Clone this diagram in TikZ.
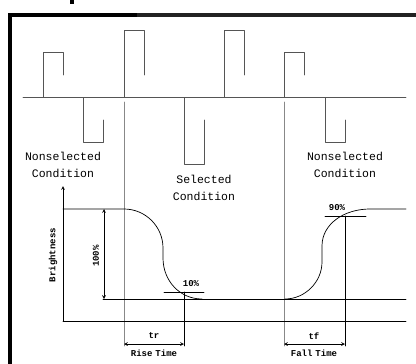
\documentclass[tikz,border=0pt]{standalone}
\usepackage{fontspec}
\setmonofont{Liberation Mono}
\definecolor{pulsegray}{HTML}{555555}
\definecolor{markgray}{HTML}{888888}
\definecolor{bargray}{HTML}{222222}
\tikzset{
  lbl/.style={font=\ttfamily\fontsize{11.5}{17}\selectfont,align=center,inner sep=0pt},
  small/.style={font=\ttfamily\bfseries\fontsize{9}{10}\selectfont,inner sep=0pt}
}
\begin{document}
\begin{tikzpicture}[line cap=round,line join=round,>=stealth,x=1pt,y=-1pt,line width=0.7pt]
\useasboundingbox (0,0) rectangle (416,364);
% frame
\fill (8,13) rectangle (137,17.3);
\fill[bargray] (137,13) rectangle (416,17.3);
\fill (8,13) rectangle (12.3,364);
\fill (70,0) rectangle (74,4);
% drive signal
\draw[pulsegray] (23,97.5)--(406,97.5);
\foreach \a/\h in {43/52,124/30,224/30,284/52}
{
\draw[pulsegray] (\a,97.5)--(\a,\h)--(\a+20,\h)--(\a+20,75);
}
\foreach \a/\h in {83/142,184/164,325/142}
{
\draw[pulsegray] (\a,97.5)--(\a,\h)--(\a+20,\h)--(\a+20,120);
}
\draw[markgray] (124,102)--(124,346);
\draw[markgray] (284,102)--(284,346);
% axes
\draw[->] (63,321.5)--(63,186);
\draw (63,321.5)--(406,321.5);
\draw (103,299)--(406,299);
% brightness
\draw (63,209)--(124,209) .. controls (145.5,209) and (163,226.5) .. (163,248)
  --(163,258) .. controls (163,281) and (180,299) .. (202,299);
\draw (285,299) .. controls (305,299) and (322,282) .. (322,262)
  --(322,246) .. controls (322,224) and (344,209) .. (370,209)--(406,209);
\draw[<->] (104,209)--(104,299);
% 10% and 90% marks
\draw (164,292)--(204,292);
\draw (184,292)--(184,346);
\draw (325,216)--(366,216);
\draw (345,216)--(345,346);
\draw[<->] (124,344)--(184,344);
\draw[<->] (284,344)--(345,344);
% labels
\node[lbl] (ns1) at (63,165) {Nonselected\\Condition};
\node[lbl] (sel) at (204,188) {Selected\\Condition};
\node[lbl] (ns2) at (345,165) {Nonselected\\Condition};
\node[small,rotate=90] (bri) at (53,255) {Brightness};
\node[small,rotate=90] (full) at (96,256) {100\%};
\node[small] (ten) at (191,284) {10\%};
\node[small] (ninety) at (337,208) {90\%};
\node[small] (tr) at (154,336) {tr};
\node[small] (rise) at (154,353) {Rise\,\,Time};
\node[small] (tf) at (314,336) {tf};
\node[small] (fall) at (314,353) {Fall\,\,Time};
\end{tikzpicture}
\end{document}
